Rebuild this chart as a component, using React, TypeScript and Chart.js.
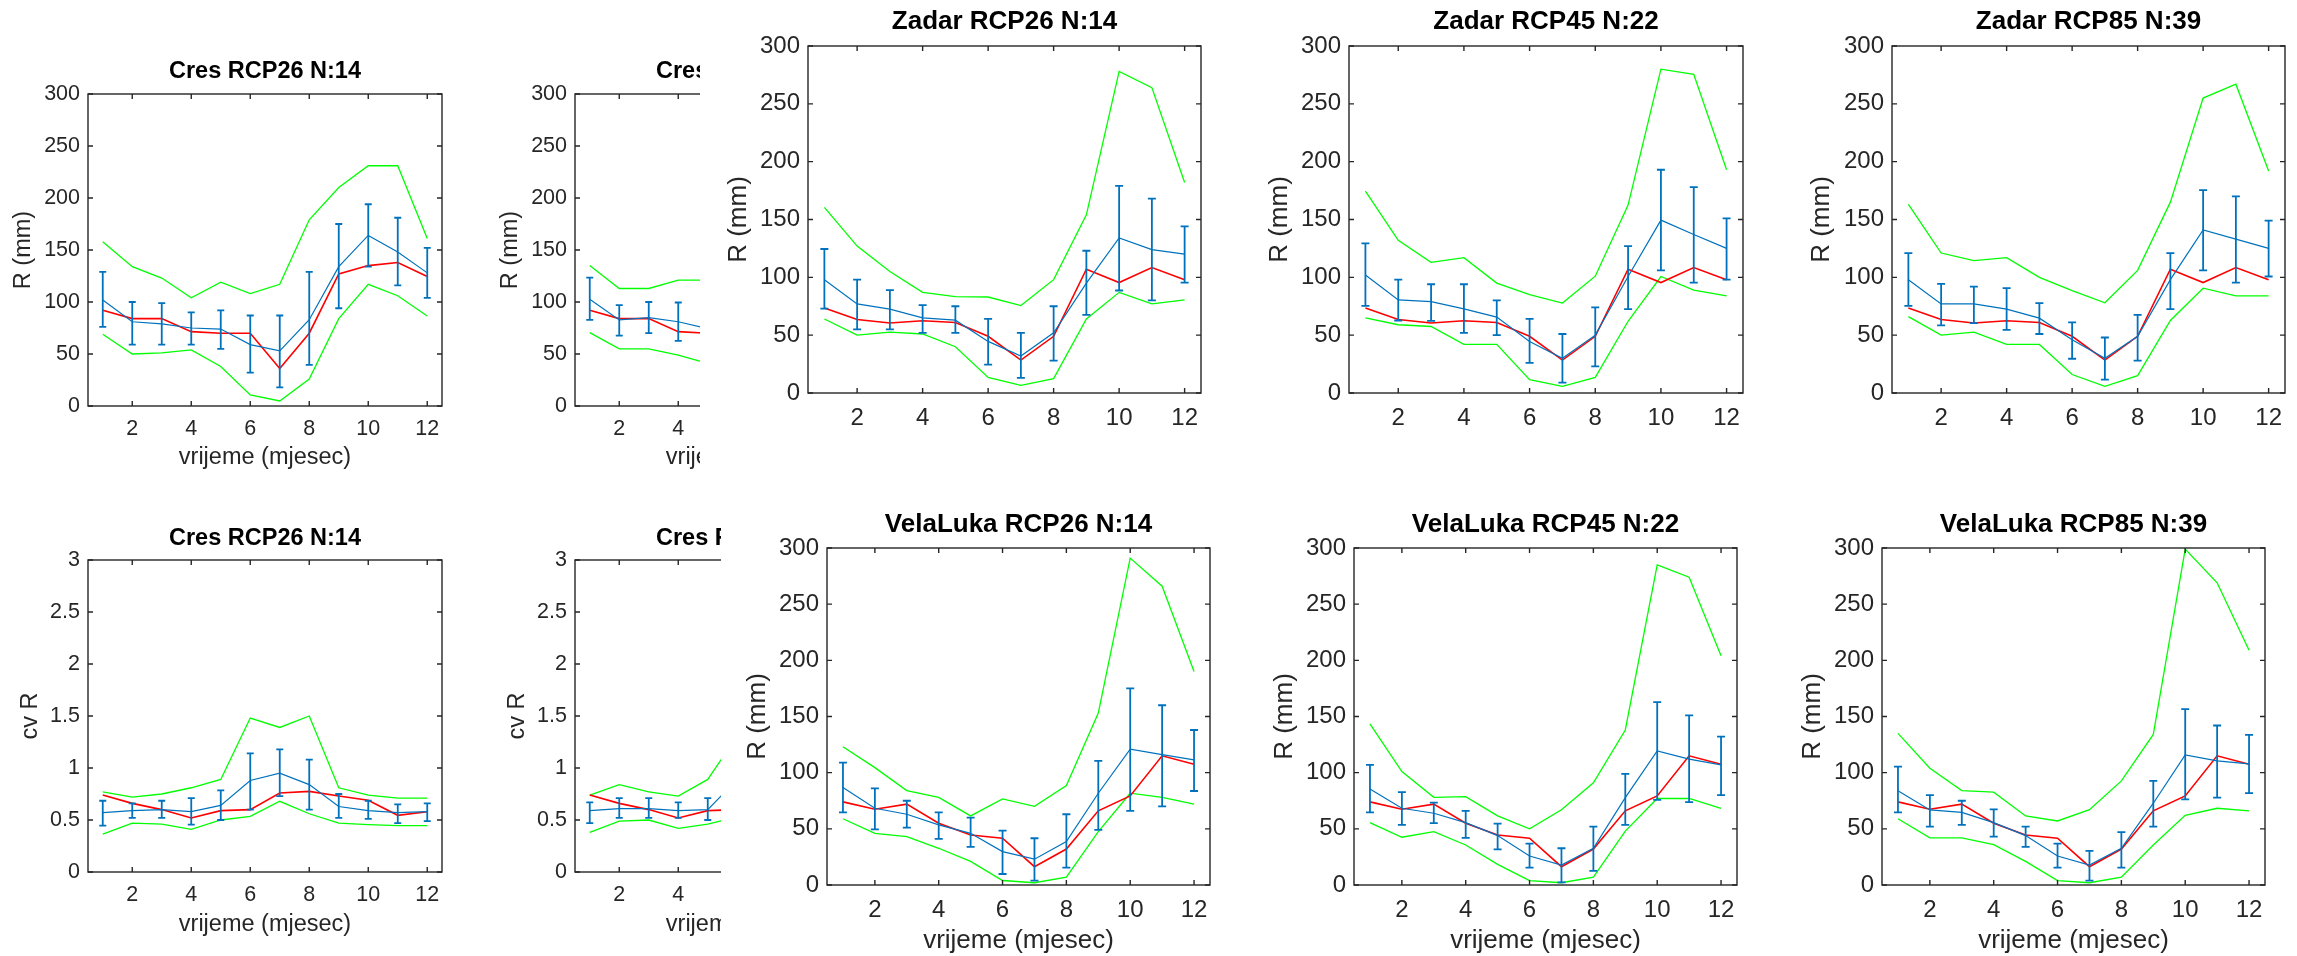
import React, { useEffect, useRef } from 'react';
import { Chart, registerables } from 'chart.js';
Chart.register(...registerables);

// ---------------- DATA ----------------
const months = [1, 2, 3, 4, 5, 6, 7, 8, 9, 10, 11, 12];
const xTickValues = [2, 4, 6, 8, 10, 12];
const rTickValues = [0, 50, 100, 150, 200, 250, 300];
const cvTickValues = [0, 0.5, 1, 1.5, 2, 2.5, 3];

// Cres (R)
const cresObsR = [92, 84, 84, 71.5, 70, 70, 36, 70, 127, 135, 138, 124.5];
const cres26Mean = [102, 81, 79, 75, 74, 59, 53, 83, 134, 164, 148, 128];
const cres26Max = [158, 134, 123, 104, 119, 108, 117, 179, 210, 231, 231, 161];
const cres26Min = [69, 50, 51, 54, 38, 10.6, 4.8, 26, 84, 117, 106, 86.6];
const cres26ErrHi = [129, 100, 99, 90, 92, 87, 87, 129, 175, 194, 181, 152];
const cres26ErrLo = [76, 59, 59, 59, 55, 32, 18, 39.5, 94, 134, 116, 104];

// Cres RCP45 (only the visible part)
const cres45Mean = [102.7, 82.8, 85, 81, 74.4];
const cres45Max = [135, 113, 113, 121, 121];
const cres45Min = [70.6, 55, 55, 49, 41];
const cres45ErrHi = [123.5, 97, 100, 99.5];
const cres45ErrLo = [82.8, 67.7, 70, 62.6];

// Cres (cv R)
const cresObsCv = [0.74, 0.66, 0.6, 0.52, 0.59, 0.6, 0.76, 0.775, 0.73, 0.69, 0.545, 0.58];
const cres26CvMean = [0.57, 0.59, 0.6, 0.58, 0.64, 0.88, 0.95, 0.84, 0.63, 0.59, 0.57, 0.58];
const cres26CvMax = [0.77, 0.72, 0.75, 0.81, 0.89, 1.48, 1.39, 1.5, 0.81, 0.74, 0.71, 0.71];
const cres26CvMin = [0.365, 0.47, 0.46, 0.41, 0.5, 0.535, 0.68, 0.56, 0.47, 0.455, 0.445, 0.445];
const cres26CvErrHi = [0.685, 0.66, 0.685, 0.71, 0.785, 1.14, 1.18, 1.08, 0.75, 0.685, 0.65, 0.66];
const cres26CvErrLo = [0.445, 0.52, 0.52, 0.455, 0.5, 0.6, 0.73, 0.6, 0.52, 0.51, 0.47, 0.49];

const cres45CvMean = [0.59, 0.61, 0.61, 0.59, 0.6, 0.89];
const cres45CvMax = [0.74, 0.84, 0.77, 0.73, 0.89, 1.31];
const cres45CvMin = [0.38, 0.49, 0.5, 0.42, 0.46, 0.53];
const cres45CvErrHi = [0.67, 0.71, 0.71, 0.67, 0.71];
const cres45CvErrLo = [0.47, 0.52, 0.52, 0.52, 0.5];

// Zadar
const zadarObs = [73.5, 63.5, 60.5, 62.5, 61, 49, 28.5, 49, 107, 95.5, 108.5, 98];
const zadar26Mean = [98, 77, 72.5, 65, 63, 44.6, 32, 52, 95, 134, 124, 120];
const zadar26Max = [160.5, 127, 105, 87, 83.4, 83, 75.6, 98, 154, 278, 264, 182];
const zadar26Min = [64, 50, 52.6, 51, 40, 13.5, 6.6, 12.4, 64, 87, 77, 80.5];
const zadar26ErrHi = [124.5, 98, 89, 76, 75, 64, 52, 75, 123, 179, 168, 144];
const zadar26ErrLo = [73, 55, 55, 52, 52, 24.5, 13, 28, 67.6, 88.6, 80, 95.5];

const zadar45Mean = [102, 80.5, 79, 72.8, 65.6, 44.6, 30, 50, 100.7, 149.5, 137, 125];
const zadar45Max = [174.6, 132, 113, 117, 95, 85, 77.7, 101, 162.5, 280, 275.5, 193];
const zadar45Min = [65, 59, 57.5, 42, 42, 11.5, 5.8, 13.5, 62, 100.7, 89, 84];
const zadar45ErrHi = [129.4, 98, 94, 94, 80, 64, 51, 74, 127, 193, 178, 151];
const zadar45ErrLo = [75.4, 62.7, 62.4, 52, 50, 26, 9, 23, 72.5, 106, 95.5, 98];

const zadar85Mean = [98, 77, 77, 72.5, 64.7, 46, 30, 49, 98, 141, 133, 125];
const zadar85Max = [163, 121, 114.5, 117, 100, 88.6, 78, 106, 165, 255, 267, 192];
const zadar85Min = [66, 50, 52.6, 42, 42, 16, 5.8, 15, 62.7, 90.6, 84, 84];
const zadar85ErrHi = [121, 94.3, 92, 90.6, 77.7, 61, 48, 67.6, 121, 175.4, 170, 149];
const zadar85ErrLo = [75.4, 58.4, 60.4, 54.6, 51, 29.6, 11.5, 28, 72.5, 106, 95.5, 100.7];

// VelaLuka
const velaObs = [74, 67.4, 72, 55, 44.5, 41.6, 16.3, 32, 66, 79.3, 115, 107.5];
const vela26Mean = [86.7, 68.3, 63, 53.5, 46, 29.7, 23, 38.6, 81.7, 121, 116, 111.4];
const vela26Max = [123, 104.5, 84, 78, 61.5, 76.6, 70, 88.5, 153, 291, 266, 190];
const vela26Min = [59, 46, 43, 32.7, 21, 4, 2, 7, 47.5, 81.7, 78, 72];
const vela26ErrHi = [109, 86, 75, 64.7, 60, 48.4, 41.6, 63, 110.5, 175, 160, 138];
const vela26ErrLo = [64.7, 49.6, 51, 41, 34, 9.8, 3.9, 15.4, 49, 66, 70, 83.7];

const vela45Mean = [85.5, 68.3, 63.9, 55.5, 44, 25.8, 17.8, 32.7, 77.8, 119.4, 112, 107];
const vela45Max = [143.5, 101, 78, 78.7, 61.5, 50, 67, 91, 138, 285, 274, 204];
const vela45Min = [55.6, 42.5, 47.5, 35.6, 18.4, 3.9, 2, 7, 48, 77, 77, 68.3];
const vela45ErrHi = [107, 82.6, 73.4, 66, 54.6, 36.8, 32.7, 52, 99, 162.8, 151, 132];
const vela45ErrLo = [64.7, 53.5, 55, 42, 31.8, 15.4, 2.4, 12.5, 53.5, 75.7, 73.7, 80];

const vela85Mean = [84, 66.8, 64.7, 55.5, 44, 25.8, 17.8, 32.7, 72.8, 115.8, 110.5, 107.8];
const vela85Max = [135, 104, 84, 82.6, 61.5, 57, 67, 92.7, 134, 299, 269, 209];
const vela85Min = [59, 42, 42, 36, 21, 3.9, 2, 7, 35.6, 62, 68.3, 66];
const vela85ErrHi = [105.4, 80, 75, 67.4, 52, 36.8, 30.3, 47, 92.7, 156.5, 142, 133.6];
const vela85ErrLo = [64.7, 52, 53.5, 43, 34, 15.4, 3.9, 15.4, 52, 76.3, 77.8, 81.7];

// ---------------- STYLE / LAYOUT ----------------
const FONT = "'Liberation Sans', Arial, Helvetica, sans-serif";
const BLUE = '#0072BD';
const RED = '#FF0000';
const GREEN = '#00FF00';
const AXIS = '#262626';

const PADL = 100;
const PADR = 12;
const PADB = 71;

type Series = { mean: number[]; max: number[]; min: number[]; obs: number[]; hi: number[]; lo: number[] };
type PanelSpec = {
  title: string;
  box: [number, number, number, number]; // x0, y0, x1, y1
  yMax: number;
  yTicks: number[];
  yLabel: string;
  xLabel: string | null;
  fTick: number;
  fLabel: number;
  fTitle: number;
  titleY: number;
  ylabelX: number;
  xtickY: number;
  xlabelY: number;
  clipRight?: number;
  cap: number;
  s: Series;
};

const XL = 'vrijeme (mjesec)';

const small = { fTick: 21.5, fLabel: 23.5, fTitle: 23.5, cap: 3.5 };
const big = { fTick: 24, fLabel: 26, fTitle: 26, cap: 4 };

const panels: PanelSpec[] = [
  {
    title: 'Cres RCP26 N:14', box: [88, 94, 442, 406], yMax: 300, yTicks: rTickValues, yLabel: 'R (mm)', xLabel: XL,
    ...small, titleY: 72, ylabelX: 24, xtickY: 429, xlabelY: 458,
    s: { mean: cres26Mean, max: cres26Max, min: cres26Min, obs: cresObsR, hi: cres26ErrHi, lo: cres26ErrLo },
  },
  {
    title: 'Cres RCP45 N:22', box: [575, 94, 929, 406], yMax: 300, yTicks: rTickValues, yLabel: 'R (mm)', xLabel: XL,
    ...small, titleY: 72, ylabelX: 511, xtickY: 429, xlabelY: 458, clipRight: 700,
    s: { mean: cres45Mean, max: cres45Max, min: cres45Min, obs: cresObsR, hi: cres45ErrHi, lo: cres45ErrLo },
  },
  {
    title: 'Cres RCP26 N:14', box: [88, 560, 442, 872], yMax: 3, yTicks: cvTickValues, yLabel: 'cv R', xLabel: XL,
    ...small, titleY: 539, ylabelX: 31, xtickY: 895, xlabelY: 925,
    s: { mean: cres26CvMean, max: cres26CvMax, min: cres26CvMin, obs: cresObsCv, hi: cres26CvErrHi, lo: cres26CvErrLo },
  },
  {
    title: 'Cres RCP45 N:22', box: [575, 560, 929, 872], yMax: 3, yTicks: cvTickValues, yLabel: 'cv R', xLabel: XL,
    ...small, titleY: 539, ylabelX: 518, xtickY: 895, xlabelY: 925, clipRight: 721,
    s: { mean: cres45CvMean, max: cres45CvMax, min: cres45CvMin, obs: cresObsCv, hi: cres45CvErrHi, lo: cres45CvErrLo },
  },
  {
    title: 'Zadar RCP26 N:14', box: [808, 46, 1201, 393], yMax: 300, yTicks: rTickValues, yLabel: 'R (mm)', xLabel: null,
    ...big, titleY: 22, ylabelX: 739, xtickY: 418, xlabelY: 450,
    s: { mean: zadar26Mean, max: zadar26Max, min: zadar26Min, obs: zadarObs, hi: zadar26ErrHi, lo: zadar26ErrLo },
  },
  {
    title: 'Zadar RCP45 N:22', box: [1349, 46, 1743, 393], yMax: 300, yTicks: rTickValues, yLabel: 'R (mm)', xLabel: null,
    ...big, titleY: 22, ylabelX: 1280, xtickY: 418, xlabelY: 450,
    s: { mean: zadar45Mean, max: zadar45Max, min: zadar45Min, obs: zadarObs, hi: zadar45ErrHi, lo: zadar45ErrLo },
  },
  {
    title: 'Zadar RCP85 N:39', box: [1892, 46, 2285, 393], yMax: 300, yTicks: rTickValues, yLabel: 'R (mm)', xLabel: null,
    ...big, titleY: 22, ylabelX: 1822, xtickY: 418, xlabelY: 450,
    s: { mean: zadar85Mean, max: zadar85Max, min: zadar85Min, obs: zadarObs, hi: zadar85ErrHi, lo: zadar85ErrLo },
  },
  {
    title: 'VelaLuka RCP26 N:14', box: [827, 548, 1210, 885], yMax: 300, yTicks: rTickValues, yLabel: 'R (mm)', xLabel: XL,
    ...big, titleY: 525, ylabelX: 758, xtickY: 910, xlabelY: 941,
    s: { mean: vela26Mean, max: vela26Max, min: vela26Min, obs: velaObs, hi: vela26ErrHi, lo: vela26ErrLo },
  },
  {
    title: 'VelaLuka RCP45 N:22', box: [1354, 548, 1737, 885], yMax: 300, yTicks: rTickValues, yLabel: 'R (mm)', xLabel: XL,
    ...big, titleY: 525, ylabelX: 1285, xtickY: 910, xlabelY: 941,
    s: { mean: vela45Mean, max: vela45Max, min: vela45Min, obs: velaObs, hi: vela45ErrHi, lo: vela45ErrLo },
  },
  {
    title: 'VelaLuka RCP85 N:39', box: [1882, 548, 2265, 885], yMax: 300, yTicks: rTickValues, yLabel: 'R (mm)', xLabel: XL,
    ...big, titleY: 525, ylabelX: 1813, xtickY: 910, xlabelY: 941,
    s: { mean: vela85Mean, max: vela85Max, min: vela85Min, obs: velaObs, hi: vela85ErrHi, lo: vela85ErrLo },
  },
];

// ---------------- PLUGINS ----------------
const errorBarsPlugin = {
  id: 'errorBars',
  afterDatasetsDraw(chart: any, _args: any, opts: any) {
    if (!opts || !opts.hi) return;
    const { ctx, scales } = chart;
    const x = scales.x, y = scales.y;
    ctx.save();
    ctx.strokeStyle = opts.color;
    ctx.lineWidth = opts.width;
    ctx.beginPath();
    for (let i = 0; i < opts.hi.length; i++) {
      const hi = opts.hi[i], lo = opts.lo[i];
      if (hi == null || lo == null) continue;
      const px = x.getPixelForValue(months[i]);
      const yh = y.getPixelForValue(hi);
      const yl = y.getPixelForValue(lo);
      ctx.moveTo(px, yh); ctx.lineTo(px, yl);
      ctx.moveTo(px - opts.cap, yh); ctx.lineTo(px + opts.cap, yh);
      ctx.moveTo(px - opts.cap, yl); ctx.lineTo(px + opts.cap, yl);
    }
    ctx.stroke();
    ctx.restore();
  },
};

const matlabAxesPlugin = {
  id: 'matlabAxes',
  afterDatasetsDraw(chart: any, _args: any, opts: any) {
    if (!opts || !opts.xTicks) return;
    const { ctx, chartArea: a, scales } = chart;
    const x = scales.x, y = scales.y;
    const len = opts.len;
    ctx.save();
    ctx.strokeStyle = AXIS;
    ctx.lineWidth = opts.lineWidth;
    ctx.strokeRect(a.left, a.top, a.right - a.left, a.bottom - a.top);
    ctx.beginPath();
    for (const v of opts.xTicks) {
      const px = x.getPixelForValue(v);
      ctx.moveTo(px, a.bottom); ctx.lineTo(px, a.bottom - len);
      ctx.moveTo(px, a.top); ctx.lineTo(px, a.top + len);
    }
    for (const v of opts.yTicks) {
      const py = y.getPixelForValue(v);
      ctx.moveTo(a.left, py); ctx.lineTo(a.left + len, py);
      ctx.moveTo(a.right, py); ctx.lineTo(a.right - len, py);
    }
    ctx.stroke();
    ctx.restore();
  },
};

// ---------------- GEOMETRY ----------------
function geom(p: PanelSpec) {
  const [x0, y0, x1, y1] = p.box;
  const padT = Math.min(60, y0);
  const cx = x0 - PADL;
  const cy = y0 - padT;
  const w = PADL + (x1 - x0) + PADR;
  const h = padT + (y1 - y0) + PADB;
  return { cx, cy, w, h, padT };
}

const toXY = (arr: number[]) => arr.map((v, i) => ({ x: months[i], y: v }));

function buildConfig(p: PanelSpec): any {
  const g = geom(p);
  const [, , , y1] = p.box;
  const tpt = p.titleY - g.cy - p.fTitle / 2;
  const ylPadTop = p.ylabelX - g.cx - p.fLabel / 2;
  const xlPadBottom = y1 + PADB - p.xlabelY - p.fLabel / 2;
  const xTickPad = p.xtickY - y1 - 0.6 * p.fTick;
  const tickFont = { family: FONT, size: p.fTick, lineHeight: 1.2 };
  const labelFont = { family: FONT, size: p.fLabel, lineHeight: 1 };
  const fmt = (v: any) => String(Math.round(v * 100) / 100);
  return {
    type: 'line',
    data: {
      datasets: [
        { data: toXY(p.s.mean), borderColor: BLUE, borderWidth: 1.2, pointRadius: 0, tension: 0, fill: false },
        { data: toXY(p.s.obs), borderColor: RED, borderWidth: 1.6, pointRadius: 0, tension: 0, fill: false },
        { data: toXY(p.s.max), borderColor: GREEN, borderWidth: 1.3, pointRadius: 0, tension: 0, fill: false },
        { data: toXY(p.s.min), borderColor: GREEN, borderWidth: 1.3, pointRadius: 0, tension: 0, fill: false },
      ],
    },
    options: {
      responsive: false,
      animation: false,
      events: [],
      layout: { padding: { left: 0, right: PADR, top: 0, bottom: 0 } },
      plugins: {
        legend: { display: false },
        tooltip: { enabled: false },
        title: { display: false },
        errorBars: { hi: p.s.hi, lo: p.s.lo, color: BLUE, width: 1.8, cap: p.cap },
        matlabAxes: { xTicks: xTickValues, yTicks: p.yTicks, len: 5, lineWidth: 1.4 },
      },
      scales: {
        x: {
          type: 'linear',
          min: 0.5,
          max: 12.5,
          grid: { display: false, drawTicks: false },
          border: { display: false },
          ticks: { font: tickFont, color: AXIS, padding: xTickPad, maxRotation: 0, autoSkip: false, callback: fmt },
          afterBuildTicks: (s: any) => { s.ticks = xTickValues.map((v) => ({ value: v })); },
          afterFit: (s: any) => { s.height = PADB; },
          title: p.xLabel
            ? { display: true, text: p.xLabel, color: AXIS, font: labelFont, padding: { top: 0, bottom: xlPadBottom } }
            : { display: false },
        },
        xTop: {
          type: 'linear',
          position: 'top',
          min: 0.5,
          max: 12.5,
          grid: { display: false, drawTicks: false },
          border: { display: false },
          ticks: { display: false },
          afterFit: (s: any) => { s.height = g.padT; },
          title: {
            display: true,
            text: p.title,
            color: '#000',
            font: { family: FONT, size: p.fTitle, weight: 'bold', lineHeight: 1 },
            padding: { top: tpt, bottom: 0 },
          },
        },
        y: {
          type: 'linear',
          min: 0,
          max: p.yMax,
          grid: { display: false, drawTicks: false },
          border: { display: false },
          ticks: { font: tickFont, color: AXIS, padding: 8, autoSkip: false, callback: fmt },
          afterBuildTicks: (s: any) => { s.ticks = p.yTicks.map((v) => ({ value: v })); },
          afterFit: (s: any) => { s.width = PADL; },
          title: { display: true, text: p.yLabel, color: AXIS, font: labelFont, padding: { top: ylPadTop, bottom: 0 } },
        },
      },
    },
    plugins: [errorBarsPlugin, matlabAxesPlugin],
  };
}

function Panel({ p }: { p: PanelSpec }) {
  const ref = useRef<HTMLCanvasElement>(null);
  const g = geom(p);
  useEffect(() => {
    const chart = new Chart(ref.current as HTMLCanvasElement, buildConfig(p));
    return () => chart.destroy();
  }, []);
  const wrapW = p.clipRight ? p.clipRight - g.cx : g.w;
  return (
    <div style={{ position: 'absolute', left: g.cx, top: g.cy, width: wrapW, height: g.h, overflow: 'hidden' }}>
      <canvas ref={ref} width={g.w} height={g.h} style={{ display: 'block', width: g.w, height: g.h }} />
    </div>
  );
}

export default function App() {
  return (
    <div
      style={{
        position: 'absolute',
        left: 0,
        top: 0,
        width: 2297,
        height: 956,
        background: '#fff',
        overflow: 'hidden',
      }}
    >
      {panels.map((p, i) => (
        <Panel key={i} p={p} />
      ))}
    </div>
  );
}
